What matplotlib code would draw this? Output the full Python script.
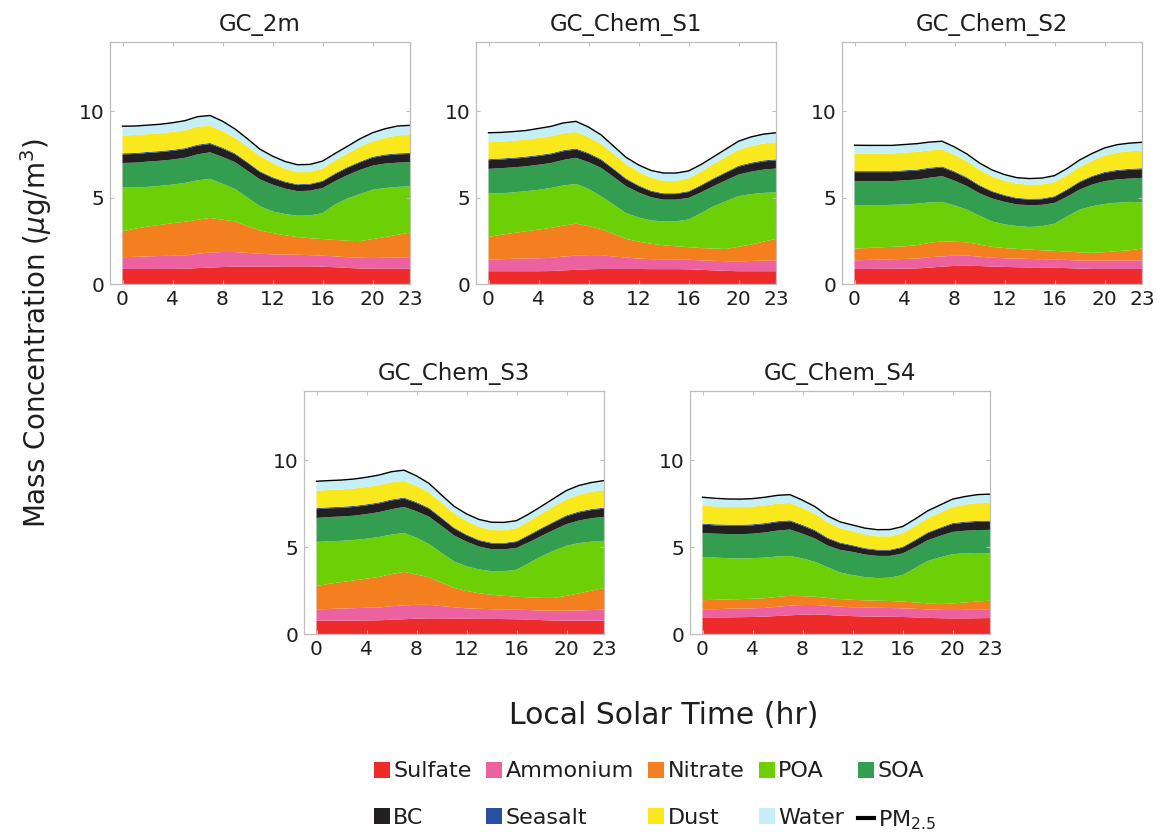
import numpy as np
import matplotlib
matplotlib.use("Agg")
import matplotlib.pyplot as plt
from matplotlib.patches import Patch
from matplotlib.lines import Line2D

hours = list(range(24))
species = ["Sulfate", "Ammonium", "Nitrate", "POA", "SOA", "BC", "Seasalt", "Dust", "Water"]
colors = ["#EE2B2B", "#EC619F", "#F47F1F", "#6DCF05", "#339E4F",
          "#231F20", "#2B4FA2", "#F9E81B", "#C6EEF6"]
panel_titles = ["GC_2m", "GC_Chem_S1", "GC_Chem_S2", "GC_Chem_S3", "GC_Chem_S4"]
xticks = [0, 4, 8, 12, 16, 20, 23]
yticks = [0, 5, 10]

# ---- GC_2m (ug/m3, hourly mean by local solar hour) ----
gc2m_sulfate = [0.87, 0.87, 0.87, 0.87, 0.87, 0.88, 0.92, 0.95, 0.98, 1.00, 1.00, 1.00,
                1.01, 1.02, 1.02, 1.02, 1.00, 0.97, 0.93, 0.90, 0.88, 0.88, 0.88, 0.88]
gc2m_ammonium = [0.68, 0.70, 0.73, 0.75, 0.76, 0.77, 0.83, 0.87, 0.87, 0.85, 0.80, 0.75,
                 0.71, 0.68, 0.67, 0.65, 0.64, 0.63, 0.62, 0.62, 0.62, 0.64, 0.65, 0.67]
gc2m_nitrate = [1.50, 1.63, 1.72, 1.80, 1.89, 1.95, 1.97, 2.00, 1.87, 1.77, 1.55, 1.35,
                1.23, 1.12, 1.03, 0.98, 0.96, 0.95, 0.95, 0.96, 1.10, 1.20, 1.32, 1.42]
gc2m_poa = [2.53, 2.38, 2.30, 2.26, 2.23, 2.25, 2.28, 2.26, 2.08, 1.88, 1.65, 1.40,
            1.25, 1.23, 1.23, 1.32, 1.50, 2.05, 2.45, 2.72, 2.85, 2.83, 2.77, 2.68]
gc2m_soa = [1.42, 1.44, 1.46, 1.45, 1.45, 1.45, 1.50, 1.54, 1.55, 1.55, 1.55, 1.55,
            1.55, 1.47, 1.42, 1.43, 1.45, 1.35, 1.35, 1.40, 1.40, 1.42, 1.40, 1.40]
gc2m_bc = [0.50, 0.50, 0.50, 0.50, 0.50, 0.50, 0.50, 0.48, 0.48, 0.45, 0.45, 0.42,
           0.38, 0.36, 0.35, 0.35, 0.37, 0.40, 0.42, 0.43, 0.45, 0.46, 0.48, 0.47]
gc2m_seasalt = [0.06, 0.06, 0.06, 0.06, 0.06, 0.06, 0.06, 0.06, 0.06, 0.06, 0.05, 0.05,
                0.05, 0.05, 0.05, 0.05, 0.05, 0.05, 0.05, 0.05, 0.06, 0.06, 0.06, 0.06]
gc2m_dust = [1.04, 1.04, 1.03, 1.03, 1.04, 1.04, 1.04, 0.99, 0.96, 0.89, 0.90, 0.88,
             0.82, 0.74, 0.70, 0.68, 0.72, 0.75, 0.78, 0.87, 0.89, 0.96, 1.04, 1.07]
gc2m_water = [0.53, 0.52, 0.52, 0.52, 0.53, 0.55, 0.58, 0.60, 0.57, 0.52, 0.45, 0.40,
              0.40, 0.42, 0.43, 0.44, 0.42, 0.40, 0.42, 0.45, 0.50, 0.53, 0.54, 0.53]

# ---- GC_Chem_S1 ----
s1_sulfate = [0.74, 0.74, 0.74, 0.74, 0.74, 0.75, 0.79, 0.82, 0.85, 0.87, 0.87, 0.87,
              0.87, 0.86, 0.86, 0.86, 0.85, 0.82, 0.79, 0.76, 0.74, 0.74, 0.74, 0.74]
s1_ammonium = [0.67, 0.69, 0.72, 0.74, 0.75, 0.76, 0.80, 0.82, 0.82, 0.80, 0.72, 0.66,
               0.60, 0.58, 0.57, 0.56, 0.55, 0.55, 0.55, 0.56, 0.57, 0.59, 0.61, 0.63]
s1_nitrate = [1.31, 1.42, 1.49, 1.57, 1.66, 1.74, 1.79, 1.85, 1.68, 1.51, 1.31, 1.08,
              0.98, 0.89, 0.81, 0.76, 0.73, 0.71, 0.71, 0.71, 0.84, 0.95, 1.10, 1.24]
s1_poa = [2.51, 2.40, 2.35, 2.32, 2.30, 2.31, 2.32, 2.30, 2.15, 1.90, 1.70, 1.50,
          1.40, 1.35, 1.38, 1.45, 1.60, 2.02, 2.45, 2.77, 2.93, 2.92, 2.82, 2.70]
s1_soa = [1.43, 1.45, 1.45, 1.44, 1.45, 1.44, 1.48, 1.51, 1.55, 1.64, 1.60, 1.55,
          1.45, 1.34, 1.26, 1.25, 1.25, 1.20, 1.16, 1.20, 1.25, 1.30, 1.35, 1.37]
s1_bc = [0.50, 0.50, 0.50, 0.50, 0.50, 0.50, 0.50, 0.48, 0.47, 0.45, 0.43, 0.40,
         0.36, 0.33, 0.32, 0.32, 0.34, 0.38, 0.41, 0.43, 0.45, 0.46, 0.47, 0.47]
s1_seasalt = [0.06, 0.06, 0.06, 0.06, 0.06, 0.06, 0.06, 0.06, 0.06, 0.06, 0.05, 0.05,
              0.05, 0.05, 0.05, 0.05, 0.05, 0.05, 0.05, 0.05, 0.06, 0.06, 0.06, 0.06]
s1_dust = [0.98, 0.98, 0.98, 0.98, 0.99, 0.99, 0.98, 0.95, 0.92, 0.88, 0.85, 0.82,
           0.78, 0.75, 0.72, 0.72, 0.74, 0.78, 0.82, 0.88, 0.92, 0.96, 0.98, 1.00]
s1_water = [0.55, 0.53, 0.53, 0.53, 0.55, 0.57, 0.60, 0.62, 0.58, 0.52, 0.45, 0.40,
            0.40, 0.42, 0.45, 0.45, 0.43, 0.40, 0.42, 0.45, 0.50, 0.53, 0.54, 0.54]

# ---- GC_Chem_S2 ----
s2_sulfate = [0.87, 0.87, 0.88, 0.88, 0.89, 0.90, 0.95, 1.00, 1.05, 1.06, 1.04, 1.01,
              0.99, 0.97, 0.96, 0.95, 0.94, 0.92, 0.89, 0.87, 0.87, 0.87, 0.87, 0.87]
s2_ammonium = [0.50, 0.52, 0.53, 0.55, 0.56, 0.57, 0.60, 0.60, 0.59, 0.58, 0.54, 0.51,
               0.50, 0.50, 0.49, 0.48, 0.47, 0.47, 0.47, 0.48, 0.48, 0.49, 0.50, 0.50]
s2_nitrate = [0.68, 0.69, 0.71, 0.72, 0.73, 0.78, 0.83, 0.87, 0.81, 0.77, 0.70, 0.63,
              0.59, 0.56, 0.54, 0.52, 0.51, 0.49, 0.47, 0.45, 0.49, 0.54, 0.58, 0.68]
s2_poa = [2.49, 2.47, 2.44, 2.43, 2.42, 2.40, 2.34, 2.28, 2.10, 1.89, 1.67, 1.47,
          1.37, 1.32, 1.31, 1.40, 1.57, 2.02, 2.47, 2.70, 2.79, 2.80, 2.80, 2.68]
s2_soa = [1.41, 1.40, 1.39, 1.37, 1.40, 1.39, 1.43, 1.49, 1.43, 1.36, 1.30, 1.33,
          1.30, 1.25, 1.26, 1.23, 1.20, 1.15, 1.16, 1.25, 1.32, 1.35, 1.35, 1.41]
s2_bc = [0.52, 0.52, 0.52, 0.52, 0.52, 0.52, 0.52, 0.50, 0.48, 0.45, 0.42, 0.38,
         0.35, 0.33, 0.32, 0.32, 0.34, 0.38, 0.42, 0.45, 0.47, 0.49, 0.50, 0.50]
s2_seasalt = [0.06, 0.06, 0.06, 0.06, 0.06, 0.06, 0.06, 0.06, 0.06, 0.06, 0.05, 0.05,
              0.05, 0.05, 0.05, 0.05, 0.05, 0.05, 0.05, 0.05, 0.06, 0.06, 0.06, 0.06]
s2_dust = [1.02, 1.02, 1.02, 1.02, 1.02, 1.02, 1.00, 0.98, 0.95, 0.92, 0.88, 0.85,
           0.83, 0.82, 0.82, 0.82, 0.82, 0.82, 0.84, 0.88, 0.95, 1.00, 1.02, 1.02]
s2_water = [0.48, 0.47, 0.47, 0.47, 0.47, 0.48, 0.48, 0.48, 0.46, 0.43, 0.40, 0.37,
            0.35, 0.35, 0.35, 0.36, 0.37, 0.38, 0.40, 0.42, 0.44, 0.46, 0.47, 0.48]

# ---- GC_Chem_S3 ----
s3_sulfate = [0.77, 0.77, 0.77, 0.77, 0.78, 0.79, 0.82, 0.85, 0.88, 0.90, 0.90, 0.89,
              0.88, 0.87, 0.87, 0.86, 0.85, 0.83, 0.80, 0.78, 0.77, 0.77, 0.77, 0.77]
s3_ammonium = [0.65, 0.67, 0.70, 0.72, 0.73, 0.74, 0.78, 0.80, 0.80, 0.78, 0.71, 0.65,
               0.60, 0.58, 0.56, 0.56, 0.55, 0.55, 0.55, 0.56, 0.57, 0.59, 0.61, 0.63]
s3_nitrate = [1.34, 1.45, 1.52, 1.60, 1.68, 1.76, 1.85, 1.93, 1.75, 1.58, 1.35, 1.12,
              1.00, 0.90, 0.83, 0.78, 0.75, 0.73, 0.73, 0.74, 0.86, 0.98, 1.12, 1.25]
s3_poa = [2.55, 2.45, 2.38, 2.33, 2.30, 2.30, 2.28, 2.24, 2.12, 1.92, 1.72, 1.52,
          1.42, 1.37, 1.36, 1.42, 1.55, 1.98, 2.40, 2.72, 2.88, 2.90, 2.82, 2.72]
s3_soa = [1.38, 1.40, 1.40, 1.40, 1.42, 1.43, 1.46, 1.50, 1.52, 1.58, 1.55, 1.50,
          1.42, 1.32, 1.27, 1.26, 1.26, 1.20, 1.17, 1.20, 1.25, 1.30, 1.35, 1.38]
s3_bc = [0.50, 0.50, 0.50, 0.50, 0.50, 0.50, 0.50, 0.48, 0.47, 0.45, 0.43, 0.40,
         0.36, 0.33, 0.32, 0.32, 0.34, 0.38, 0.41, 0.43, 0.45, 0.46, 0.47, 0.47]
s3_seasalt = [0.06, 0.06, 0.06, 0.06, 0.06, 0.06, 0.06, 0.06, 0.06, 0.06, 0.05, 0.05,
              0.05, 0.05, 0.05, 0.05, 0.05, 0.05, 0.05, 0.05, 0.06, 0.06, 0.06, 0.06]
s3_dust = [1.00, 1.00, 1.00, 1.00, 1.00, 1.00, 0.99, 0.96, 0.93, 0.89, 0.85, 0.82,
           0.78, 0.75, 0.73, 0.73, 0.75, 0.79, 0.83, 0.88, 0.93, 0.97, 0.99, 1.01]
s3_water = [0.55, 0.54, 0.54, 0.55, 0.56, 0.58, 0.61, 0.62, 0.58, 0.52, 0.45, 0.41,
            0.41, 0.43, 0.45, 0.45, 0.43, 0.41, 0.42, 0.46, 0.50, 0.53, 0.54, 0.55]

# ---- GC_Chem_S4 ----
s4_sulfate = [0.94, 0.95, 0.96, 0.97, 0.98, 1.00, 1.04, 1.08, 1.11, 1.13, 1.10, 1.06,
              1.03, 1.01, 1.00, 0.99, 0.98, 0.96, 0.93, 0.91, 0.90, 0.90, 0.91, 0.92]
s4_ammonium = [0.48, 0.48, 0.49, 0.49, 0.50, 0.50, 0.53, 0.55, 0.56, 0.54, 0.52, 0.51,
               0.51, 0.51, 0.51, 0.51, 0.50, 0.49, 0.49, 0.48, 0.48, 0.49, 0.49, 0.49]
s4_nitrate = [0.53, 0.54, 0.54, 0.55, 0.55, 0.56, 0.57, 0.57, 0.51, 0.48, 0.46, 0.44,
              0.43, 0.42, 0.41, 0.40, 0.39, 0.37, 0.35, 0.33, 0.38, 0.43, 0.47, 0.51]
s4_poa = [2.49, 2.43, 2.38, 2.34, 2.34, 2.34, 2.33, 2.30, 2.17, 2.01, 1.77, 1.54,
          1.42, 1.34, 1.30, 1.35, 1.52, 1.98, 2.43, 2.70, 2.84, 2.83, 2.80, 2.73]
s4_soa = [1.38, 1.38, 1.39, 1.40, 1.41, 1.45, 1.49, 1.52, 1.43, 1.34, 1.25, 1.30,
          1.34, 1.30, 1.28, 1.25, 1.25, 1.20, 1.20, 1.23, 1.28, 1.30, 1.32, 1.35]
s4_bc = [0.48, 0.48, 0.48, 0.48, 0.48, 0.48, 0.48, 0.47, 0.45, 0.43, 0.40, 0.37,
         0.34, 0.32, 0.31, 0.31, 0.33, 0.37, 0.40, 0.43, 0.45, 0.46, 0.47, 0.47]
s4_seasalt = [0.06, 0.06, 0.06, 0.06, 0.06, 0.06, 0.06, 0.06, 0.06, 0.06, 0.05, 0.05,
              0.05, 0.05, 0.05, 0.05, 0.05, 0.05, 0.05, 0.05, 0.06, 0.06, 0.06, 0.06]
s4_dust = [1.04, 1.03, 1.02, 1.02, 1.02, 1.02, 1.01, 1.00, 0.97, 0.93, 0.88, 0.83,
           0.80, 0.78, 0.77, 0.77, 0.78, 0.80, 0.82, 0.86, 0.92, 0.98, 1.03, 1.05]
s4_water = [0.48, 0.47, 0.46, 0.46, 0.46, 0.47, 0.48, 0.48, 0.45, 0.42, 0.38, 0.36,
            0.36, 0.37, 0.38, 0.39, 0.39, 0.40, 0.42, 0.44, 0.46, 0.47, 0.48, 0.48]

panels = [
    [gc2m_sulfate, gc2m_ammonium, gc2m_nitrate, gc2m_poa, gc2m_soa,
     gc2m_bc, gc2m_seasalt, gc2m_dust, gc2m_water],
    [s1_sulfate, s1_ammonium, s1_nitrate, s1_poa, s1_soa,
     s1_bc, s1_seasalt, s1_dust, s1_water],
    [s2_sulfate, s2_ammonium, s2_nitrate, s2_poa, s2_soa,
     s2_bc, s2_seasalt, s2_dust, s2_water],
    [s3_sulfate, s3_ammonium, s3_nitrate, s3_poa, s3_soa,
     s3_bc, s3_seasalt, s3_dust, s3_water],
    [s4_sulfate, s4_ammonium, s4_nitrate, s4_poa, s4_soa,
     s4_bc, s4_seasalt, s4_dust, s4_water],
]

W, H = 1157, 832
fig = plt.figure(figsize=(W / 100, H / 100), dpi=100)
fig.patch.set_facecolor("white")

# axes boxes in pixel units: left, top, width, height
boxes = [(110, 42, 300, 242), (476, 42, 300, 242), (842, 42, 300, 242),
         (304, 391, 300, 243), (690, 391, 300, 243)]

text_color = "#1E1E1E"
spine_color = "#BDBDBD"

for box, title, comps in zip(boxes, panel_titles, panels):
    l, t, w, h = box
    ax = fig.add_axes([l / W, 1 - (t + h) / H, w / W, h / H])
    ax.stackplot(hours, *comps, colors=colors, linewidth=0, antialiased=True)
    total = np.sum(np.array(comps), axis=0)
    ax.plot(hours, total, color="black", lw=1.0)
    ax.set_xlim(-1, 23)
    ax.set_ylim(0, 14)
    ax.set_xticks(xticks)
    ax.set_yticks(yticks)
    ax.tick_params(direction="in", length=3, width=0.8, color=spine_color,
                   labelsize=14.5, labelcolor=text_color, top=True, right=True, pad=4)
    for sp in ax.spines.values():
        sp.set_color(spine_color)
        sp.set_linewidth(0.9)
    ax.set_title(title, fontsize=16.5, color=text_color, pad=8)

fig.text(36 / W, 1 - 333 / H, r"Mass Concentration ($\mu$g/m$^3$)",
         rotation=90, ha="center", va="center", fontsize=20, color=text_color)
fig.text(664 / W, 1 - 715 / H, "Local Solar Time (hr)",
         ha="center", va="center", fontsize=21.5, color=text_color)

# legend: five columns, two rows (filled column by column)
handles = [Patch(facecolor=c, edgecolor="none") for c in colors]
pm_handle = Line2D([0], [0], color="black", lw=3)
labels = species + [r"$\mathregular{PM_{2.5}}$"]
all_handles = handles + [pm_handle]
order = [0, 5, 1, 6, 2, 7, 3, 8, 4, 9]
leg = fig.legend([all_handles[i] for i in order], [labels[i] for i in order],
                 ncol=5, loc="center", bbox_to_anchor=(655 / W, 1 - 796.5 / H),
                 frameon=False, fontsize=16, handlelength=0.72, handleheight=0.72,
                 handletextpad=0.15, columnspacing=0.65, labelspacing=1.2,
                 borderpad=0.2)
for txt in leg.get_texts():
    txt.set_color(text_color)

fig.savefig("out.png", dpi=100, facecolor="white")
